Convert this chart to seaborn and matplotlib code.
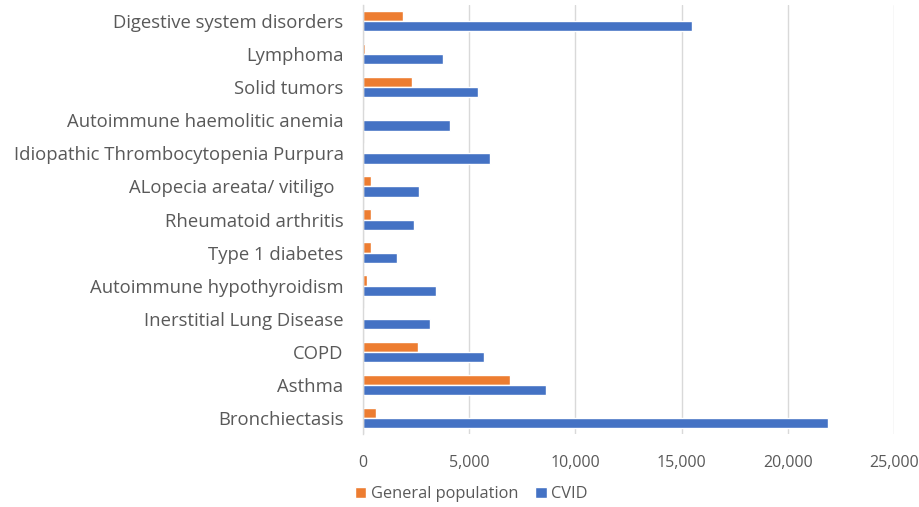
import matplotlib
matplotlib.use("Agg")
import matplotlib.pyplot as plt
import seaborn as sns
import pandas as pd
from matplotlib.ticker import FuncFormatter
from matplotlib.patches import Patch

categories = [
    "Digestive system disorders",
    "Lymphoma",
    "Solid tumors",
    "Autoimmune haemolitic anemia",
    "Idiopathic Thrombocytopenia Purpura",
    "ALopecia areata/ vitiligo  ",
    "Rheumatoid arthritis",
    "Type 1 diabetes",
    "Autoimmune hypothyroidism",
    "Inerstitial Lung Disease",
    "COPD",
    "Asthma",
    "Bronchiectasis",
]
general_population = [1900, 100, 2300, 60, 60, 360, 360, 360, 200, 50, 2600, 6900, 630]
cvid = [15500, 3770, 5430, 4110, 5970, 2640, 2400, 1590, 3420, 3150, 5710, 8600, 21900]
series_names = ["General population", "CVID"]
x_ticks = [0, 5000, 10000, 15000, 20000, 25000]

df = pd.DataFrame({
    "condition": categories * 2,
    "value": general_population + cvid,
    "group": [series_names[0]] * len(categories) + [series_names[1]] * len(categories),
})

sns.set_style("white")
plt.rcParams["font.family"] = ["Open Sans", "DejaVu Sans"]

colors = {"General population": "#ED7D31", "CVID": "#4472C4"}
text_color = "#595959"

fig = plt.figure(figsize=(9.19, 5.07), dpi=100)
ax = fig.add_axes([0.395, 0.143, 0.578, 0.848])

sns.barplot(data=df, y="condition", x="value", hue="group", order=categories,
            hue_order=series_names, palette=colors, orient="h", width=0.62,
            saturation=1, errorbar=None, legend=False, ax=ax)

ax.set_xlim(0, 25000)
ax.set_xticks(x_ticks)
ax.xaxis.set_major_formatter(FuncFormatter(lambda v, p: f"{int(v):,}"))
ax.grid(axis="x", color="#D9D9D9", linewidth=1)
ax.set_axisbelow(True)
for s in ["top", "right", "bottom"]:
    ax.spines[s].set_visible(False)
ax.spines["left"].set_color("#D9D9D9")
ax.spines["left"].set_linewidth(1)
ax.set_xlabel("")
ax.set_ylabel("")
ax.tick_params(axis="both", length=0, colors=text_color)
ax.tick_params(axis="y", labelsize=13.3, pad=14)
ax.tick_params(axis="x", labelsize=11.5, pad=15)

handles = [Patch(facecolor=colors[n], label=n) for n in series_names]
fig.legend(handles=handles, loc="center left", bbox_to_anchor=(0.37, 0.025),
           ncol=2, frameon=False, fontsize=11.8, handlelength=0.7, handleheight=0.7,
           handletextpad=0.3, columnspacing=1.0, labelcolor=text_color)

fig.savefig("out.png", dpi=100)
